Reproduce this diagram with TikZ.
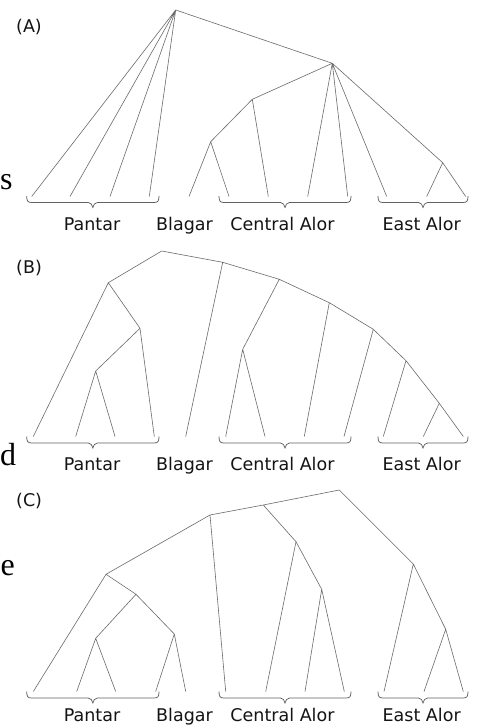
\documentclass[tikz,border=0pt]{standalone}
\usepackage{fontspec}
\setmainfont{DejaVu Sans}
\newfontfamily\pageserif{Liberation Serif}
\begin{document}
\begin{tikzpicture}[x=1pt,y=-1pt,
  edge/.style={draw=black!58,line width=0.6pt},
  bracketline/.style={draw=black!62,line width=0.75pt},
  grouplabel/.style={anchor=base,inner sep=0pt,text=black!92,font=\fontsize{17.5}{20}\selectfont},
  panellabel/.style={anchor=base west,inner sep=0pt,text=black!92,font=\fontsize{17.5}{20}\selectfont},
  pagetext/.style={anchor=base west,inner sep=0pt,text=black,font=\pageserif\fontsize{32}{36}\selectfont}]
\useasboundingbox (0,0) rectangle (477,727);
\fill[white] (0,0) rectangle (477,727);

% bracket macro: #1 left x, #2 right x, #3 top y
\newcommand{\grpbrace}[3]{%
  \pgfmathsetmacro{\bm}{(#1+#2)/2}%
  \draw[bracketline] (#1,#3) .. controls (#1,#3+5) and (#1+1,#3+6.5) .. (#1+5,#3+6.5)
    -- (\bm-4.5,#3+6.5) .. controls (\bm-2,#3+6.5) and (\bm-0.5,#3+9) .. (\bm,#3+11.5)
    .. controls (\bm+0.5,#3+9) and (\bm+2,#3+6.5) .. (\bm+4.5,#3+6.5)
    -- (#2-5,#3+6.5) .. controls (#2-1,#3+6.5) and (#2,#3+5) .. (#2,#3);}

% ---------- page text fragments ----------
\node[pagetext] (ps) at (0,190) {s};
\node[pagetext] (pd) at (0,465) {d};
\node[pagetext] (pe) at (0.5,575) {e};

% ---------- Panel A ----------
\node[panellabel] (labA) at (16,33) {(A)};
\coordinate (rA) at (175.7,10);
\coordinate (A1) at (332.3,63.3);
\coordinate (A2) at (252.3,99.3);
\coordinate (A3) at (210.7,141.7);
\coordinate (A4) at (442.7,162.7);
\foreach \i/\x in {1/31.7,2/70,3/110,4/149.3,5/189,6/229,7/268.3,8/307.7,9/347.7,10/386.7,11/426.7,12/465.7}
  \coordinate (aL\i) at (\x,196.5);
\draw[edge] (rA)--(aL1) (rA)--(aL2) (rA)--(aL3) (rA)--(aL4) (rA)--(A1)
  (A1)--(A2) (A1)--(aL8) (A1)--(aL9) (A1)--(aL10) (A1)--(A4)
  (A2)--(A3) (A2)--(aL7) (A3)--(aL5) (A3)--(aL6)
  (A4)--(aL11) (A4)--(aL12);
\grpbrace{26.7}{159}{196}
\grpbrace{219}{351}{196}
\grpbrace{378}{468}{196}
\node[grouplabel] (tA1) at (92,230.7) {Pantar};
\node[grouplabel] (tA2) at (184.5,230.7) {Blagar};
\node[grouplabel] (tA3) at (282.5,230.7) {Central Alor};
\node[grouplabel] (tA4) at (421.7,230.7) {East Alor};

% ---------- Panel B ----------
\node[panellabel] (labB) at (16,273) {(B)};
\coordinate (rB) at (161.7,251);
\coordinate (Bc1) at (222.7,262.3);
\coordinate (Bc2) at (279.3,279.3);
\coordinate (Bc3) at (329.3,302.7);
\coordinate (Bc4) at (373.3,329.3);
\coordinate (Bc5) at (406,360.7);
\coordinate (Bc6) at (439.3,403.3);
\coordinate (BL1) at (108.3,282.7);
\coordinate (BL2) at (140,328.3);
\coordinate (BL3) at (95.7,371);
\coordinate (Bca) at (242.7,349.3);
\foreach \i/\x in {1/33.3,2/75.7,3/115,4/154.3,5/185.7,6/225.7,7/265,8/304.3,9/344,10/383.3,11/423.3,12/463.3}
  \coordinate (bL\i) at (\x,436.5);
\draw[edge] (rB)--(BL1) (rB)--(Bc1)
  (BL1)--(bL1) (BL1)--(BL2) (BL2)--(bL4) (BL2)--(BL3) (BL3)--(bL2) (BL3)--(bL3)
  (Bc1)--(bL5) (Bc1)--(Bc2) (Bc2)--(Bca) (Bc2)--(Bc3)
  (Bca)--(bL6) (Bca)--(bL7)
  (Bc3)--(bL8) (Bc3)--(Bc4) (Bc4)--(bL9) (Bc4)--(Bc5)
  (Bc5)--(bL10) (Bc5)--(Bc6) (Bc6)--(bL11) (Bc6)--(bL12);
\grpbrace{26.7}{159}{436.5}
\grpbrace{219}{351}{436.5}
\grpbrace{378}{468}{436.5}
\node[grouplabel] (tB1) at (92,470.7) {Pantar};
\node[grouplabel] (tB2) at (184.5,470.7) {Blagar};
\node[grouplabel] (tB3) at (282.5,470.7) {Central Alor};
\node[grouplabel] (tB4) at (421.7,470.7) {East Alor};

% ---------- Panel C ----------
\node[panellabel] (labC) at (16,506) {(C)};
\coordinate (rC) at (339.3,490);
\coordinate (C1) at (263.3,505);
\coordinate (C2) at (210,515);
\coordinate (C3) at (106,574.3);
\coordinate (C4) at (136,594.3);
\coordinate (C5) at (95.7,638.3);
\coordinate (C6) at (174.3,634);
\coordinate (C7) at (296,541.7);
\coordinate (C8) at (321.7,589.3);
\coordinate (C9) at (413.3,564);
\coordinate (C10) at (445.7,629.3);
\foreach \i/\x in {1/33.3,2/76.7,3/115.7,4/155.7,5/185.7,6/225.7,7/265.7,8/305,9/344.3,10/384,11/424,12/463.3}
  \coordinate (cL\i) at (\x,691.5);
\draw[edge] (rC)--(C1) (rC)--(C9)
  (C1)--(C2) (C1)--(C7) (C2)--(C3) (C2)--(cL6)
  (C3)--(cL1) (C3)--(C4) (C4)--(C5) (C4)--(C6)
  (C5)--(cL2) (C5)--(cL3) (C6)--(cL4) (C6)--(cL5)
  (C7)--(cL7) (C7)--(C8) (C8)--(cL8) (C8)--(cL9)
  (C9)--(cL10) (C9)--(C10) (C10)--(cL11) (C10)--(cL12);
\grpbrace{26.7}{159}{691.5}
\grpbrace{219}{351}{691.5}
\grpbrace{378}{468}{691.5}
\node[grouplabel] (tC1) at (92,721.5) {Pantar};
\node[grouplabel] (tC2) at (184.5,721.5) {Blagar};
\node[grouplabel] (tC3) at (282.5,721.5) {Central Alor};
\node[grouplabel] (tC4) at (421.7,721.5) {East Alor};
\end{tikzpicture}
\end{document}
